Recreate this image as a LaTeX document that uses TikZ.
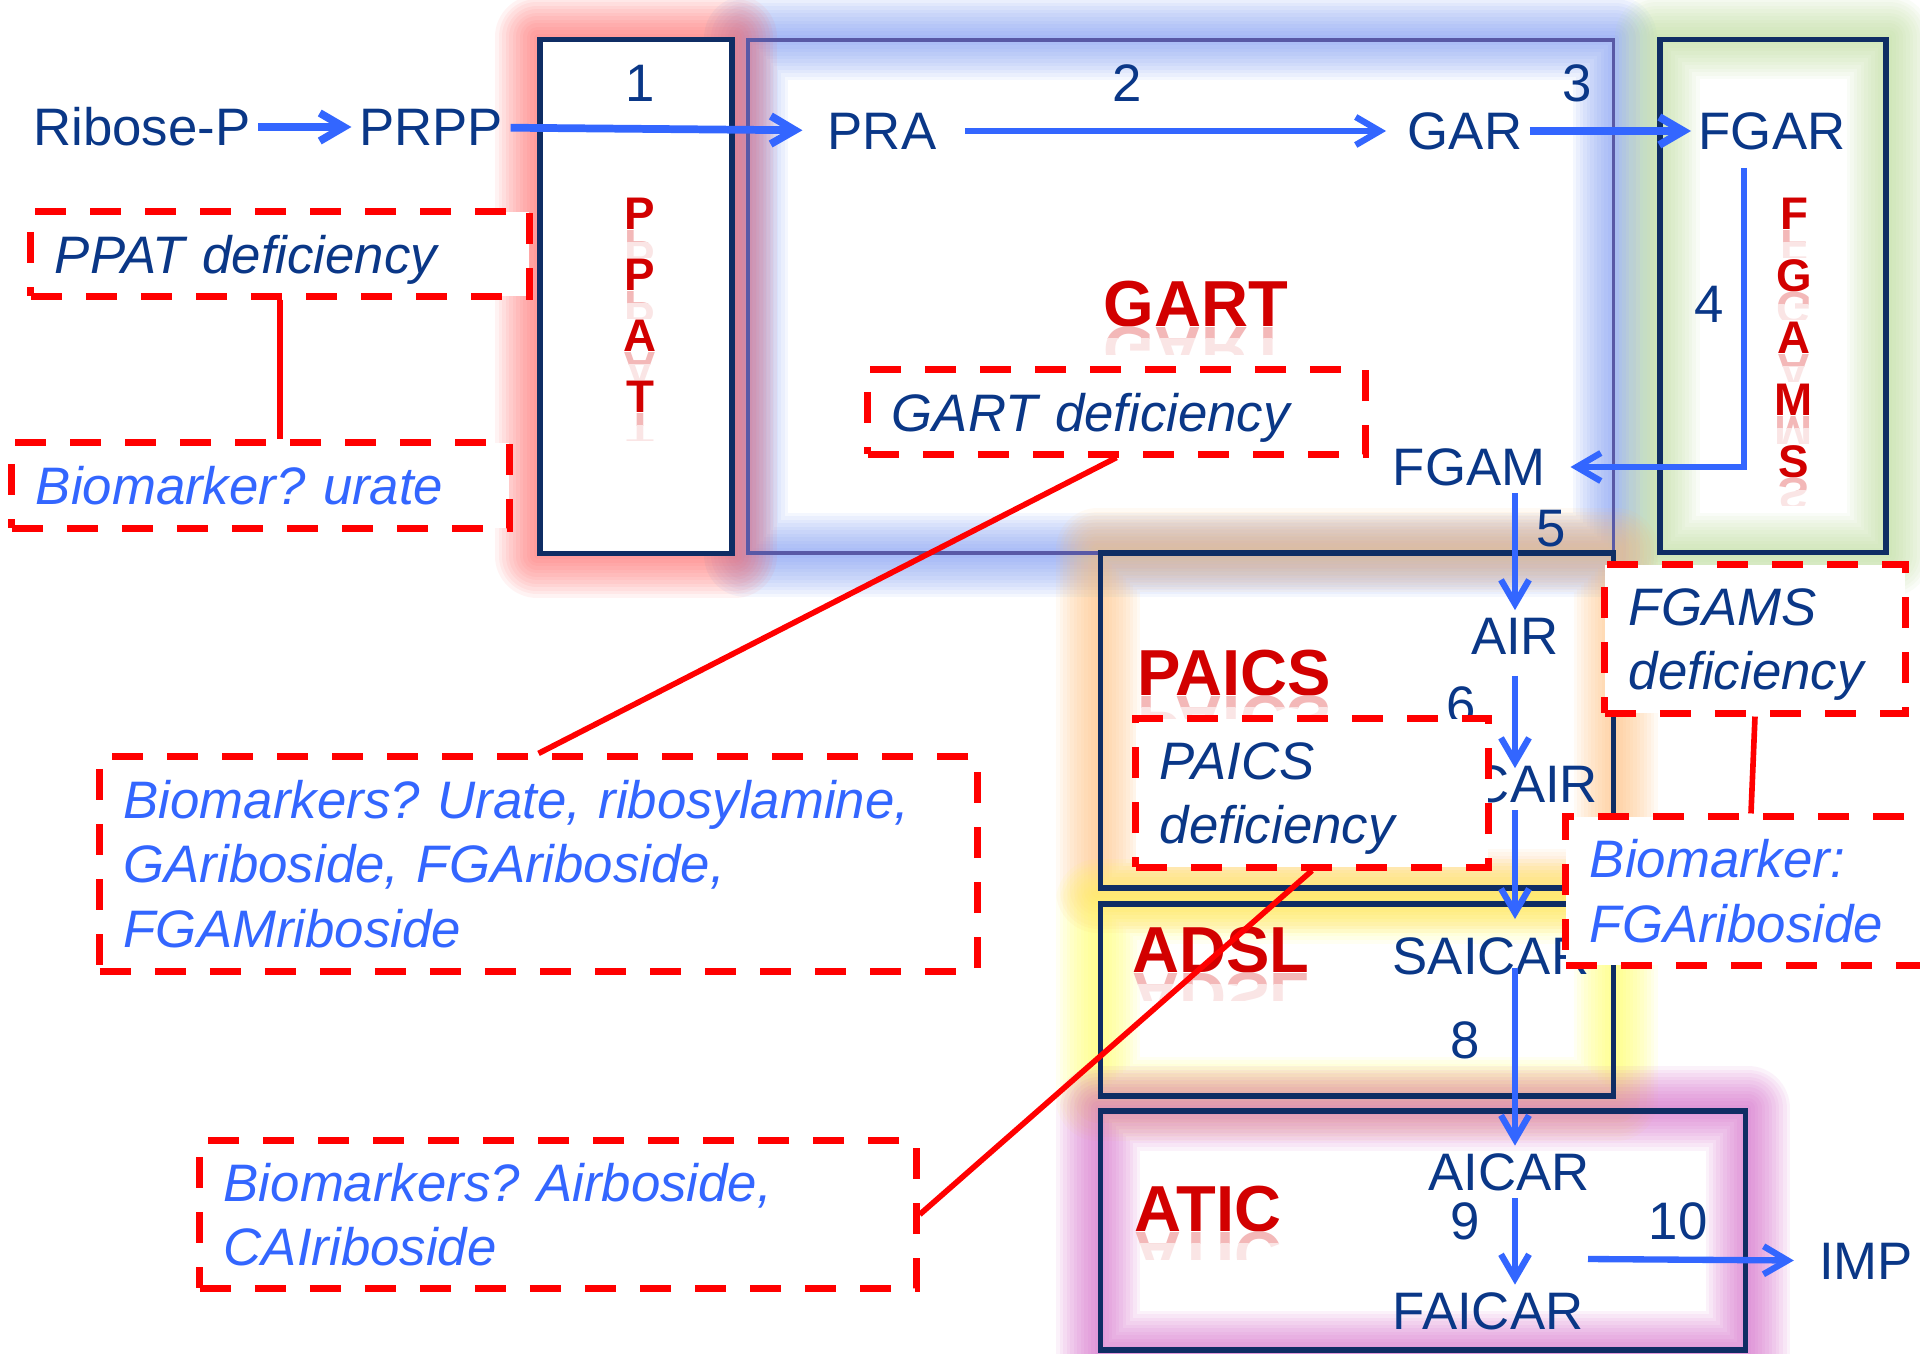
\documentclass[tikz,border=0pt]{standalone}
\usepackage{fontspec}
\setmainfont{Liberation Sans}
\usepackage{xcolor}
\usepackage{tikz}
\usetikzlibrary{arrows.meta,backgrounds}
\frenchspacing

\definecolor{metblue}{RGB}{10,55,135}
\definecolor{arrblue}{RGB}{51,102,255}
\definecolor{defred}{RGB}{255,0,0}
\definecolor{enzred}{RGB}{210,0,0}
\definecolor{boxnavy}{RGB}{15,45,100}
\definecolor{ppatglow}{RGB}{255,99,99}
\definecolor{gartglow}{RGB}{116,148,247}
\definecolor{fgamsglow}{RGB}{186,221,148}
\definecolor{paicsglow}{RGB}{255,189,116}
\definecolor{adslglow}{RGB}{255,255,83}
\definecolor{aticglow}{RGB}{211,91,198}

\newcommand{\metfont}{\fontsize{15}{18}\selectfont}
\newcommand{\notetxt}{\fontsize{15}{18.3}\selectfont\itshape}
\newcommand{\enzfont}{\fontsize{18.5}{22}\selectfont\bfseries}
\newcommand{\enzvfont}{\fontsize{13}{17.3}\selectfont\bfseries}

% soft halo round a box node
\newcommand{\halo}[2]{%
  \foreach \w in {2,4,...,24}
    \draw[#1, line width=\w pt, opacity=0.075, line join=round]
      (#2.north west) rectangle (#2.south east);}

% pale mirror image under an enzyme name
\newcommand{\mirror}[3]{%
  \coordinate (#2-tl) at (#2.base -| #2.west);
  \coordinate (#2-tr) at (#2.base -| #2.east);
  \begin{scope}
    \clip (#2-tl) rectangle ([yshift=-3.5pt]#2-tr);
    \node[#1, text=enzred!28, inner sep=0pt, anchor=north] at (#2.base) {\scalebox{1}[-1]{#3}};
  \end{scope}
  \begin{scope}
    \clip ([yshift=-3.5pt]#2-tl) rectangle ([yshift=-8pt]#2-tr);
    \node[#1, text=enzred!10, inner sep=0pt, anchor=north] at (#2.base) {\scalebox{1}[-1]{#3}};
  \end{scope}}

\begin{document}
\begin{tikzpicture}[
  x=0.01cm, y=-0.01cm,
  met/.style={text=metblue, font=\metfont, inner sep=2pt},
  num/.style={text=metblue, font=\metfont, inner sep=1pt},
  enz/.style={text=enzred, font=\enzfont},
  enzv/.style={text=enzred, font=\enzvfont},
  enzbox/.style={draw=boxnavy, line width=1.5pt, inner sep=0pt},
  gartframe/.style={draw=gray!70!blue, line width=1pt, inner sep=0pt},
  defbox/.style={draw=defred, line width=2pt, dash pattern=on 3.1mm off 2.4mm, fill=white, inner xsep=2.4mm, inner ysep=0pt, align=left, font=\notetxt},
  def/.style={defbox, text=metblue, text depth=0pt},
  deftwo/.style={defbox, text=metblue, text depth=18.3pt},
  bio/.style={defbox, text=arrblue},
  arr/.style={draw=arrblue, line width=1.8pt, -{Straight Barb[length=2.4mm, width=2.8mm]}},
  link/.style={draw=defred, line width=1.6pt}
]
  \useasboundingbox (0,0) rectangle (1920,1354);

  % enzyme boxes
  \node[enzbox, fill=white, minimum width=19.2mm, minimum height=51.3mm] (ppatbox) at (636,296.5) {};
  \node[gartframe, minimum width=86.5mm, minimum height=51.3mm] (gartbox) at (1180.5,296.5) {};
  \node[enzbox, minimum width=22.6mm, minimum height=51.2mm] (fgamsbox) at (1773,296) {};
  \node[enzbox, minimum width=51.2mm, minimum height=33.5mm] (paicsbox) at (1357,720.5) {};
  \node[enzbox, minimum width=51.2mm, minimum height=19.2mm] (adslbox) at (1357,1000) {};
  \node[enzbox, minimum width=64.4mm, minimum height=23.9mm] (aticbox) at (1423,1230.5) {};

  \begin{scope}[on background layer]
    \fill[white] (0,0) rectangle (1920,1354);
    \halo{gartglow}{gartbox}
    \halo{ppatglow}{ppatbox}
    \halo{fgamsglow}{fgamsbox}
    \halo{paicsglow}{paicsbox}
    \halo{adslglow}{adslbox}
    \halo{aticglow}{aticbox}
  \end{scope}

  % enzyme names
  \foreach \c [count=\i] in {P,P,A,T}{
    \node[enzv] (ppat\i) at (640,{153+61*\i}) {\c};
    \mirror{enzv}{ppat\i}{\c}
  }
  \foreach \c [count=\i] in {F,G,A,M,S}{
    \node[enzv] (fgams\i) at (1794,{152+62*\i}) {\c};
    \mirror{enzv}{fgams\i}{\c}
  }
  \node[enz] (gartlbl) at (1196,304) {GART};
  \mirror{enz}{gartlbl}{GART}
  \node[enz] (paicslbl) at (1234,673) {PAICS};
  \mirror{enz}{paicslbl}{PAICS}
  \node[enz] (adsllbl) at (1221,950) {ADSL};
  \mirror{enz}{adsllbl}{ADSL}
  \node[enz] (aticlbl) at (1208,1209) {ATIC};
  \mirror{enz}{aticlbl}{ATIC}

  % metabolites
  \node[met] (ribose) at (142,127) {Ribose-P};
  \node[met] (prpp) at (431,127) {PRPP};
  \node[met] (pra) at (882,131) {PRA};
  \node[met] (gar) at (1465,131) {GAR};
  \node[met] (fgar) at (1772,131) {FGAR};
  \node[met] (fgam) at (1469,467) {FGAM};
  \node[met] (air) at (1515,636) {AIR};
  \node[met] (cair) at (1535,784) {CAIR};
  \node[met] (saicar) at (1491,956) {SAICAR};
  \node[met] (aicar) at (1509,1172) {AICAR};
  \node[met] (faicar) at (1488,1311) {FAICAR};
  \node[met] (imp) at (1866,1261) {IMP};
  \coordinate (impstart) at (1588,1259);

  % step numbers
  \node[num] (s1) at (640,83) {1};
  \node[num] (s2) at (1127,83) {2};
  \node[num] (s3) at (1577,83) {3};
  \node[num] (s4) at (1709,304) {4};
  \node[num] (s5) at (1551,529) {5};
  \node[num] (s6) at (1461,705) {6};
  \node[num] (s8) at (1465,1040) {8};
  \node[num] (s9) at (1465,1221) {9};
  \node[num] (s10) at (1678,1221) {10};

  % reactions
  \draw[arr, line width=2.2pt] (ribose) -- (prpp);
  \draw[arr, line width=2.2pt, shorten >=5pt] (prpp) -- (pra);
  \draw[arr, shorten <=6pt, shorten >=4pt] (pra) -- (gar);
  \draw[arr, line width=2.2pt] (gar) -- (fgar);
  \draw[arr, shorten <=3pt, shorten >=5pt] ([xshift=-2.8mm]fgar.south) |- (fgam);
  \draw[arr] (fgam.south -| air) -- (air);
  \draw[arr, shorten <=4pt, shorten >=-3pt] (air) -- (air |- cair.north);
  \draw[arr, shorten >=3pt] (cair.south -| air) -- (saicar.north -| air);
  \draw[arr, shorten <=-4pt] (saicar.south -| air) -- (aicar.north -| air);
  \draw[arr] (aicar.south -| air) -- (faicar.north -| air);
  \draw[arr, shorten >=5pt] (impstart) -- (imp);

  % deficiencies and biomarkers
  \node[def, text width=45mm, minimum height=8.4mm] (ppatdef) at (280,254) {PPAT deficiency};
  \node[bio, text width=44.9mm, minimum height=8.5mm] (ppatbio) at (260.5,485.5) {Biomarker? urate};
  \node[def, text width=44.9mm, minimum height=8.4mm] (gartdef) at (1116.5,412) {GART deficiency};
  \node[bio, text width=82.9mm, minimum height=21.4mm] (gartbio) at (538.5,864) {Biomarkers? Urate, ribosylamine,\\GAriboside, FGAriboside,\\FGAMriboside};
  \node[deftwo, text width=25.2mm, minimum height=14.8mm] (fgamsdef) at (1755,639) {FGAMS\\deficiency};
  \node[bio, text width=32.2mm, minimum height=14.8mm] (fgamsbio) at (1751,891) {Biomarker:\\FGAriboside};
  \node[deftwo, text width=30.4mm, minimum height=14.8mm] (paicsdef) at (1312,793) {PAICS\\deficiency};
  \node[bio, text width=66.8mm, minimum height=14.7mm] (paicsbio) at (558,1214.5) {Biomarkers? Airboside,\\CAIriboside};

  \draw[link] (ppatdef.south) -- (ppatdef.south |- ppatbio.north);
  \draw[link] (gartdef.south) -- (gartbio.north);
  \draw[link] (fgamsdef.south) -- (fgamsbio.north);
  \draw[link] (paicsdef.south) -- (paicsbio.east);
\end{tikzpicture}
\end{document}
